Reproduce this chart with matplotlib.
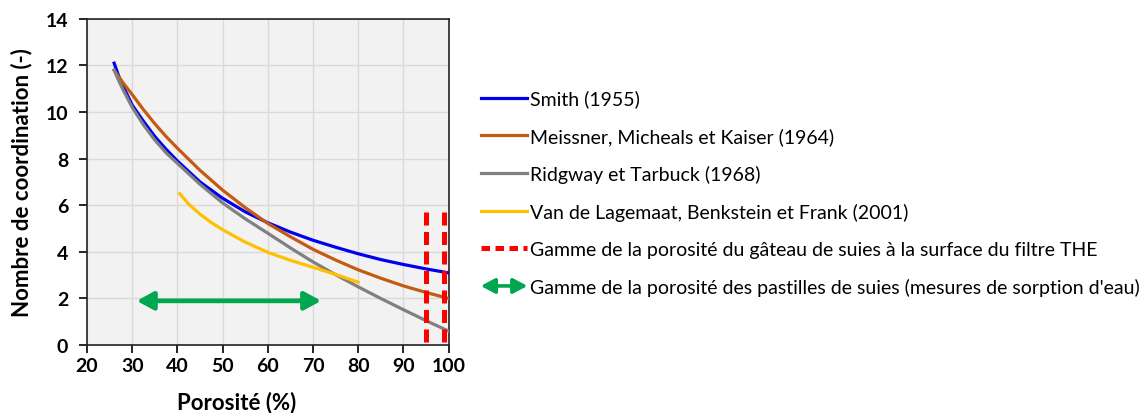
import numpy as np
import matplotlib
matplotlib.use("Agg")
import matplotlib.pyplot as plt
from matplotlib.lines import Line2D
from matplotlib.patches import FancyArrowPatch
from matplotlib.legend_handler import HandlerBase

# porosity (%) and coordination number
smith_x = [26, 27, 28, 30, 32.5, 35, 37.5, 40, 45, 50, 55, 60, 65, 70, 75, 80, 85, 90, 95, 100]
smith_y = [12.1, 11.55, 11.1, 10.3, 9.6, 8.95, 8.4, 7.9, 7.0, 6.3, 5.72, 5.25, 4.85, 4.5, 4.2, 3.92, 3.67, 3.46, 3.27, 3.1]

meis_x = [26, 27, 28, 30, 32.5, 35, 37.5, 40, 45, 50, 55, 60, 65, 70, 75, 80, 85, 90, 95, 100]
meis_y = [11.8, 11.52, 11.25, 10.75, 10.1, 9.5, 8.95, 8.45, 7.5, 6.65, 5.9, 5.22, 4.65, 4.11, 3.65, 3.23, 2.87, 2.54, 2.26, 2.0]

ridg_x = [26, 27, 28, 30, 32.5, 35, 37.5, 40, 45, 50, 55, 60, 65, 70, 75, 80, 85, 90, 95, 100]
ridg_y = [11.8, 11.35, 10.95, 10.2, 9.45, 8.8, 8.25, 7.8, 6.9, 6.1, 5.42, 4.8, 4.17, 3.57, 3.02, 2.5, 2.0, 1.52, 1.05, 0.6]

vdl_x = [40.5, 42.5, 45, 47.5, 50, 55, 60, 65, 70, 75, 80]
vdl_y = [6.5, 6.05, 5.62, 5.26, 4.95, 4.42, 3.98, 3.64, 3.34, 3.03, 2.7]

cake_range = [95, 99]
cake_top = 5.7
pellet_range = [31, 71.8]
pellet_y = 1.9

labels = ["Smith (1955)",
          "Meissner, Micheals et Kaiser (1964)",
          "Ridgway et Tarbuck (1968)",
          "Van de Lagemaat, Benkstein et Frank (2001)",
          "Gamme de la porosité du gâteau de suies à la surface du filtre THE",
          "Gamme de la porosité des pastilles de suies (mesures de sorption d'eau)"]

plt.rcParams['font.family'] = ['Lato', 'DejaVu Sans']

fig = plt.figure(figsize=(11.48, 4.14), dpi=100)
ax = fig.add_axes([0.0758, 0.164, 0.315, 0.788])
ax.set_facecolor('#f2f2f2')

l1, = ax.plot(smith_x, smith_y, color='#0000ee', lw=2.3, zorder=3)
l2, = ax.plot(meis_x, meis_y, color='#c55a11', lw=2.3, zorder=3)
l3, = ax.plot(ridg_x, ridg_y, color='#808080', lw=2.3, zorder=3)
l4, = ax.plot(vdl_x, vdl_y, color='#ffc000', lw=2.3, zorder=3)

dash = (0, (2.6, 1.3))
for xv in cake_range:
    ax.plot([xv, xv], [cake_top, 0], color='#ff0000', lw=3.6, ls=dash, zorder=4)
l5 = Line2D([], [], color='#ff0000', lw=3.6, ls=(0, (1.7, 1.1)))

ax.annotate('', xy=(pellet_range[0], pellet_y), xytext=(pellet_range[1], pellet_y),
            arrowprops=dict(arrowstyle='<|-|>,head_length=0.55,head_width=0.3',
                            color='#00a650', lw=3.4,
                            mutation_scale=18, shrinkA=0, shrinkB=0), zorder=4)


class ArrowHandler(HandlerBase):
    def create_artists(self, legend, orig_handle, xdescent, ydescent,
                       width, height, fontsize, trans):
        y = height / 2 - ydescent
        a = FancyArrowPatch((-xdescent, y), (width - xdescent, y),
                            arrowstyle='<|-|>,head_length=0.6,head_width=0.32',
                            color='#00a650', lw=2.6,
                            mutation_scale=14, shrinkA=0, shrinkB=0,
                            transform=trans)
        return [a]


class ArrowProxy:
    pass


proxy = ArrowProxy()

ax.set_xlim(20, 100)
ax.set_ylim(0, 14)
ax.set_xticks(np.arange(20, 101, 10))
ax.set_yticks(np.arange(0, 15, 2))
ax.grid(True, color='#d9d9d9', lw=1)
ax.set_axisbelow(True)
for s in ax.spines.values():
    s.set_color('#222222')
    s.set_linewidth(1.2)
ax.tick_params(direction='out', length=5.5, width=1.2, labelsize=14)
ax.tick_params(axis='y', pad=8)
ax.tick_params(axis='x', pad=3)
for lab in ax.get_xticklabels() + ax.get_yticklabels():
    lab.set_fontweight('bold')
ax.set_xlabel('Porosité (%)', fontsize=16, fontweight='bold')
ax.xaxis.set_label_coords(0.414, -0.14)
ax.set_ylabel('Nombre de coordination (-)', fontsize=16, fontweight='bold')
ax.yaxis.set_label_coords(-0.152, 0.5)

fig.legend([l1, l2, l3, l4, l5, proxy], labels,
           handler_map={ArrowProxy: ArrowHandler()},
           loc='upper left', bbox_to_anchor=(0.412, 0.80), frameon=False,
           fontsize=14, handlelength=2.4, handletextpad=0.15,
           labelspacing=1.02, borderaxespad=0)

fig.savefig('out.png', dpi=100)
